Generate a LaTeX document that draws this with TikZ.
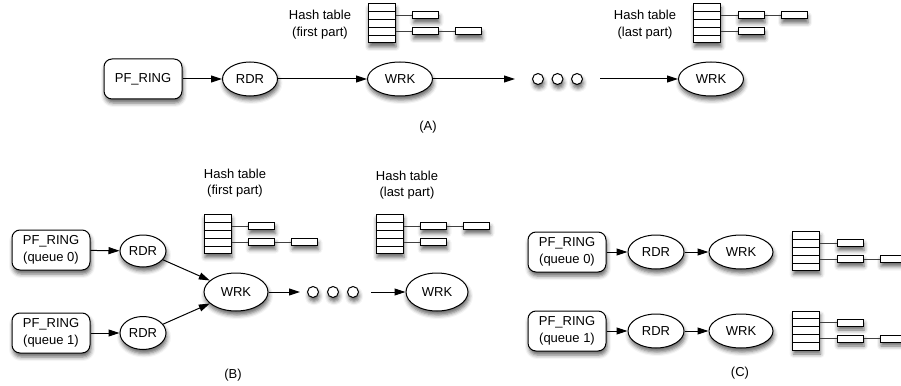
\documentclass[tikz,border=0pt]{standalone}
\usepackage{fontspec}
\setmainfont{Liberation Sans}
\usetikzlibrary{calc,shapes.geometric,arrows.meta,shadows.blur}
\tikzset{
  softshadow/.style={blur shadow={shadow xshift=1pt,shadow yshift=-4pt,shadow blur radius=4pt,shadow opacity=60}},
  pfbox/.style={draw,fill=white,rounded corners=8pt,minimum width=78pt,minimum height=40pt,align=center,softshadow},
  procnode/.style={draw,fill=white,ellipse,inner sep=0pt,minimum width=56pt,minimum height=34pt,softshadow},
  bubble/.style={draw,fill=white,circle,inner sep=0pt,minimum size=11pt,softshadow},
  tablebox/.style={draw,fill=white,inner sep=0pt,minimum width=27pt,minimum height=39pt,softshadow},
  chainbox/.style={draw,fill=white,inner sep=0pt,minimum width=26pt,minimum height=7pt,softshadow},
  chainline/.style={line width=0.7pt,black!75},
  flowarrow/.style={-{Triangle[length=11pt,width=7pt]}}
}
\newcommand{\hashtable}[4]
{   \node[tablebox] (#1) at #2 {};
    \foreach \k in {1,...,4}
      \draw ($(#1.north west)!\k/5!(#1.south west)$) -- ($(#1.north east)!\k/5!(#1.south east)$);
    \coordinate (#1-s) at ($(#1.north east)!#3!(#1.south east)$);
    \coordinate (#1-d) at ($(#1.north east)!#4!(#1.south east)$);
    \node[chainbox] (#1-s1) at ($(#1-s)+(30,0)$) {};
    \node[chainbox] (#1-d1) at ($(#1-d)+(30,0)$) {};
    \node[chainbox] (#1-d2) at ($(#1-d)+(73,0)$) {};
    \draw[chainline] (#1-s) -- (#1-s1);
    \draw[chainline] (#1-d) -- (#1-d1) -- (#1-d2);
}
\begin{document}
\begin{tikzpicture}[x=1pt,y=-1pt,font=\fontsize{13pt}{16.5pt}\selectfont,line width=1pt]
\useasboundingbox (0,0) rectangle (901,385);

\node[pfbox] (pfa) at (143,79) {PF\_RING};
\node[procnode,minimum width=55pt] (rdra) at (250,79) {RDR};
\node[procnode,minimum width=65pt] (wrka) at (400,79) {WRK};
\node[bubble] (a1) at (538,79) {};
\node[bubble] (a2) at (557.5,79) {};
\node[bubble] (a3) at (577,79) {};
\node[procnode,minimum width=65pt] (wrkz) at (711,79) {WRK};
\draw[flowarrow] (pfa) -- (rdra);
\draw[flowarrow] (rdra) -- (wrka);
\draw[flowarrow,shorten >=17pt] (wrka) -- (a1);
\draw[flowarrow,shorten <=17pt] (a3) -- (wrkz);
\hashtable{hta}{(381.5,23.5)}{0.3}{0.7}
\node[align=center] (lbla) at (320,24.5) {Hash table\\(first part)};
\hashtable{htz}{(707,23.5)}{0.7}{0.3}
\node[align=center] (lblz) at (645,24.5) {Hash table\\(last part)};
\node (capa) at (428,127) {(A)};

\node[pfbox] (pfb0) at (51,250) {PF\_RING\\(queue 0)};
\node[pfbox] (pfb1) at (51,333) {PF\_RING\\(queue 1)};
\node[procnode,minimum width=46pt,minimum height=32pt] (rdrb0) at (143,251) {RDR};
\node[procnode,minimum width=46pt,minimum height=33pt] (rdrb1) at (143,333) {RDR};
\node[procnode,minimum width=64pt,minimum height=38pt] (wrkb) at (236,292) {WRK};
\node[bubble] (b1) at (313,292) {};
\node[bubble] (b2) at (333,292) {};
\node[bubble] (b3) at (353,292) {};
\node[procnode,minimum width=62pt,minimum height=38pt] (wrkbz) at (437,292) {WRK};
\draw[flowarrow] (pfb0) -- (rdrb0);
\draw[flowarrow] (pfb1) -- (rdrb1);
\draw[flowarrow] (rdrb0) -- (wrkb);
\draw[flowarrow] (rdrb1) -- (wrkb);
\draw[flowarrow,shorten >=7pt] (wrkb) -- (b1);
\draw[flowarrow,shorten <=12pt] (b3) -- (wrkbz);
\hashtable{htb}{(217.5,234)}{0.3}{0.7}
\node[align=center] (lblb) at (235,183) {Hash table\\(first part)};
\hashtable{htbz}{(389.5,234)}{0.7}{0.3}
\node[align=center] (lblbz) at (407,185) {Hash table\\(last part)};
\node (capb) at (233,375) {(B)};

\node[pfbox] (pfc0) at (567,252) {PF\_RING\\(queue 0)};
\node[pfbox] (pfc1) at (567,331) {PF\_RING\\(queue 1)};
\node[procnode] (rdrc0) at (656,252) {RDR};
\node[procnode] (rdrc1) at (656,331) {RDR};
\node[procnode,minimum width=64pt] (wrkc0) at (741,252) {WRK};
\node[procnode,minimum width=64pt] (wrkc1) at (741,331) {WRK};
\draw[flowarrow] (pfc0) -- (rdrc0);
\draw[flowarrow] (rdrc0) -- (wrkc0);
\draw[flowarrow] (pfc1) -- (rdrc1);
\draw[flowarrow] (rdrc1) -- (wrkc1);
\hashtable{htc0}{(806,251)}{0.3}{0.7}
\hashtable{htc1}{(806,330.5)}{0.3}{0.7}
\node (capc) at (740,373) {(C)};
\end{tikzpicture}
\end{document}
